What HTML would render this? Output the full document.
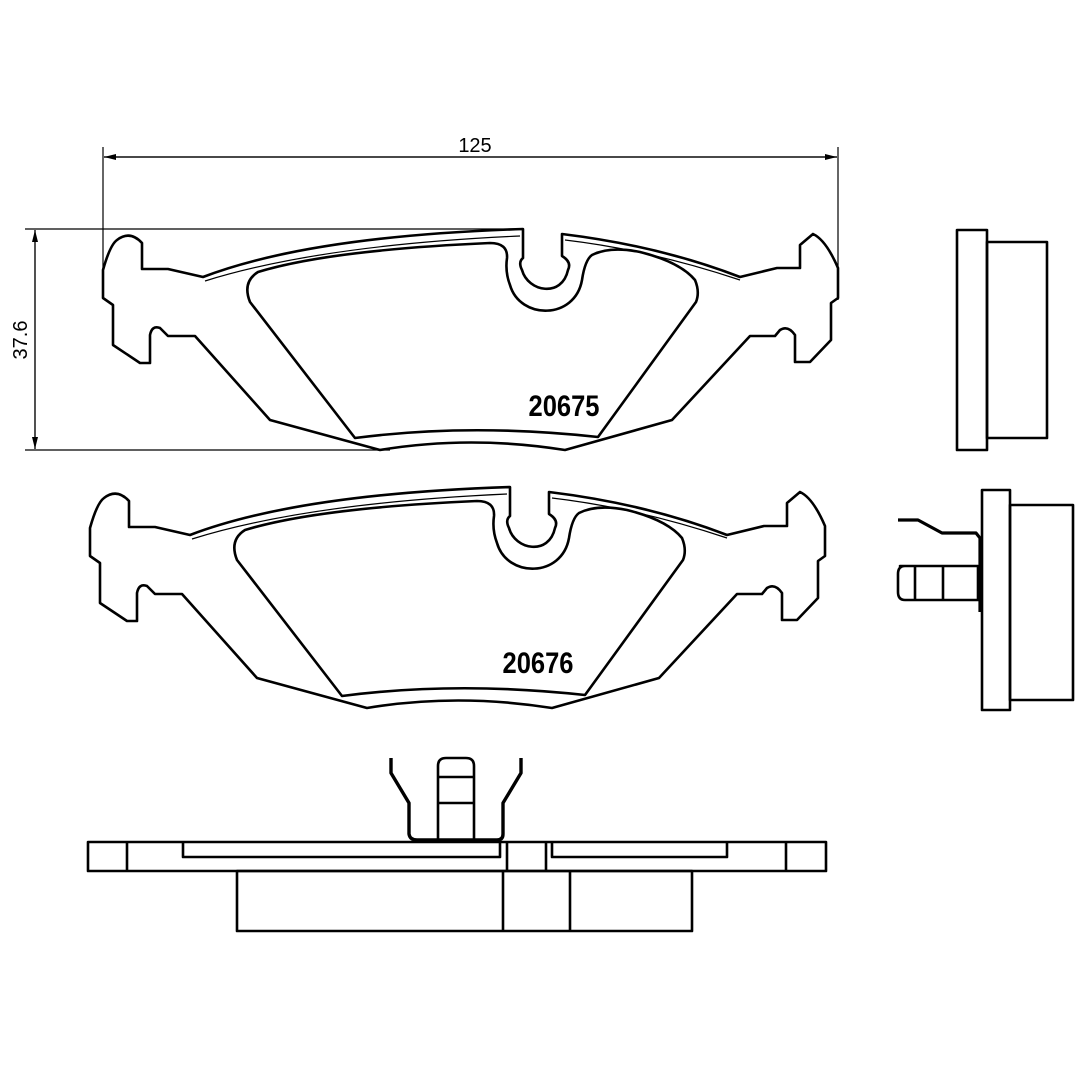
<!DOCTYPE html>
<html><head><meta charset="utf-8"><style>
html,body{margin:0;padding:0;background:#fff}
svg{display:block}
</style></head><body>
<svg width="1080" height="1080" viewBox="0 0 1080 1080" xmlns="http://www.w3.org/2000/svg">
<defs>
<marker id="ar" markerWidth="12" markerHeight="6" refX="12" refY="3" orient="auto" markerUnits="userSpaceOnUse">
<path d="M0,0 L12,3 L0,6 Z" fill="#000"/></marker>
<g id="pad" fill="none" stroke="#000" stroke-width="2.6" stroke-linejoin="round">
<path d="M203,277 Q310,236 523,229 L523,258 Q518,262 522,270 C528,292 562,298 568,270 Q572,262 562,256 L562,234 Q660,246 740,277 L777,268 L800,268 L800,245 L813,234 Q826,240 838,268 L838,298 L831,303 L831,340 L810,362 L795,362 L795,335 Q788,325 780,330 L775,336 L750,336 L672,420 L565,450 Q470,435 380,450 L270,420 L195,336 L168,336 L160,328 Q152,325 150,335 L150,363 L140,363 L113,345 L113,305 L103,298 L103,270 Q110,245 117,240 Q130,230 142,243 L142,269 L168,269 Z"/>
<path d="M205,281 Q320,245 520,236" stroke-width="1.2"/>
<path d="M565,240 Q650,250 740,280" stroke-width="1.2"/>
<path d="M258,272 Q330,250 490,243 Q508,243 507,258 Q505,272 510,285 C520,320 575,320 582,280 Q585,260 592,255 Q610,246 640,252 Q680,262 695,280 Q700,292 696,302 L598,437 Q470,423 355,438 L250,302 Q242,282 258,272 Z"/>
</g>
</defs>

<!-- dimension lines -->
<g stroke="#000" stroke-width="1.2" fill="none">
<line x1="103" y1="147" x2="103" y2="272"/>
<line x1="838" y1="147" x2="838" y2="300"/>
<line x1="104" y1="157" x2="837" y2="157" marker-end="url(#ar)"/>
<line x1="837" y1="157" x2="104" y2="157" marker-end="url(#ar)"/>
<line x1="25" y1="229" x2="520" y2="229"/>
<line x1="25" y1="450" x2="390" y2="450"/>
<line x1="35" y1="230" x2="35" y2="449" marker-end="url(#ar)"/>
<line x1="35" y1="449" x2="35" y2="230" marker-end="url(#ar)"/>
</g>
<text x="475" y="152" font-family="Liberation Sans, sans-serif" font-size="20" text-anchor="middle">125</text>
<text transform="translate(27,340) rotate(-90)" font-family="Liberation Sans, sans-serif" font-size="20" text-anchor="middle">37.6</text>

<use href="#pad"/>
<use href="#pad" transform="translate(-13,258)"/>
<text x="564" y="416" font-family="Liberation Sans, sans-serif" font-weight="bold" font-size="30" text-anchor="middle" transform="translate(564,0) scale(0.85,1) translate(-564,0)">20675</text>
<text x="538" y="673" font-family="Liberation Sans, sans-serif" font-weight="bold" font-size="30" text-anchor="middle" transform="translate(538,0) scale(0.85,1) translate(-538,0)">20676</text>

<g fill="none" stroke="#000" stroke-width="2.6" stroke-linejoin="round">
<!-- side view 1 -->
<rect x="957" y="230" width="30" height="220"/>
<rect x="987" y="242" width="60" height="196"/>
<!-- side view 2 -->
<rect x="982" y="490" width="28" height="220"/>
<rect x="1010" y="505" width="63" height="195"/>
<path d="M900,566 L978,566 L978,600 L905,600 Q898,600 898,592 L898,574 Q898,566 905,566 Z"/>
<line x1="915" y1="566" x2="915" y2="600"/>
<line x1="943" y1="566" x2="943" y2="600"/>
<path d="M898,520 L918,520 L942,533 L976,533 L980,538 L980,612" stroke-width="3.2"/>
<!-- bottom view -->
<rect x="88" y="842" width="738" height="29"/>
<line x1="127" y1="842" x2="127" y2="871"/>
<line x1="786" y1="842" x2="786" y2="871"/>
<path d="M183,842 L183,857 L500,857 L500,842"/>
<path d="M552,842 L552,857 L727,857 L727,842"/>
<line x1="507" y1="842" x2="507" y2="871"/>
<line x1="546" y1="842" x2="546" y2="871"/>
<rect x="237" y="871" width="455" height="60"/>
<line x1="503" y1="871" x2="503" y2="931"/>
<line x1="570" y1="871" x2="570" y2="931"/>
<path d="M438,840 L438,766 Q438,758 446,758 L466,758 Q474,758 474,766 L474,840"/>
<line x1="438" y1="777" x2="474" y2="777"/>
<line x1="438" y1="803" x2="474" y2="803"/>
<path d="M391,758 L391,773 L409,803 L409,834 Q410,840 417,840 L497,840 Q503,840 503,834 L503,803 L521,773 L521,758" stroke-width="3.4"/>
</g>
</svg>
</body></html>
